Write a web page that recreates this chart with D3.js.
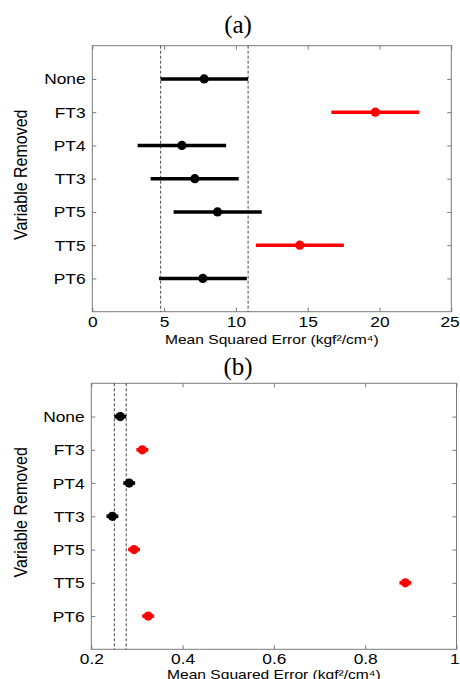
<!DOCTYPE html>
<html>
<head>
<meta charset="utf-8">
<script src="https://cdn.jsdelivr.net/npm/d3@7"></script>
<style>
  html, body { margin: 0; padding: 0; background: #fff; }
  svg { display: block; }
  text { font-family: "Liberation Sans", Arial, Helvetica, sans-serif; fill: #000; }
  .title { font-family: "Liberation Serif", "Times New Roman", serif; }
</style>
</head>
<body>
<svg id="fig" width="460" height="679"></svg>
<script>
// Variables removed from the model, top to bottom
const categories = ["None", "FT3", "PT4", "TT3", "PT5", "TT5", "PT6"];

// Panel (a): mean squared error with interval bounds
const meanA = [7.79, 19.71, 6.24, 7.14, 8.72, 14.45, 7.70];
const lowA  = [4.76, 16.65, 3.16, 4.06, 5.66, 11.39, 4.64];
const highA = [10.85, 22.77, 9.32, 10.20, 11.80, 17.52, 10.76];
const worseA = [false, true, false, false, false, true, false];
const ticksA = [0, 5, 10, 15, 20, 25];

// Panel (b): mean squared error with interval bounds
const meanB = [0.2635, 0.3118, 0.2830, 0.2462, 0.2937, 0.8880, 0.3246];
const lowB  = [0.2505, 0.2988, 0.2700, 0.2332, 0.2807, 0.8750, 0.3116];
const highB = [0.2765, 0.3248, 0.2960, 0.2592, 0.3067, 0.9010, 0.3376];
const worseB = [false, true, false, false, true, true, true];
const ticksB = [0.2, 0.4, 0.6, 0.8, 1];

const xLabel = "Mean Squared Error (kgf\u00b2/cm\u2074)";
const yLabel = "Variable Removed";

const svg = d3.select("#fig");
const STRETCH = 1.12;   // horizontal widening of the sans-serif glyphs
const AXIS_COLOR = "#7a7a7a";

function panel(cfg) {
  const { left, right, top, bottom, domain, ticks, fmt, mean, low, high, worse, title, titleY } = cfg;

  const x = d3.scaleLinear().domain(domain).range([left, right]);
  const y = d3.scalePoint().domain(categories).range([top, bottom]).padding(1);
  const g = svg.append("g");

  // title
  g.append("text").attr("class", "title")
    .attr("x", 238).attr("y", titleY)
    .attr("text-anchor", "middle")
    .style("font-size", "25px")
    .text(title);

  // box frame
  g.append("rect")
    .attr("x", left).attr("y", top)
    .attr("width", right - left).attr("height", bottom - top)
    .attr("fill", "none").attr("stroke", AXIS_COLOR).attr("stroke-width", 1);

  const styleAxis = sel => {
    sel.select(".domain").remove();
    sel.selectAll(".tick line").attr("stroke", AXIS_COLOR);
  };

  // bottom axis with labels
  const gxb = g.append("g").attr("transform", `translate(0,${bottom})`)
    .call(d3.axisBottom(x).tickValues(ticks).tickFormat(fmt).tickSizeInner(-4).tickSizeOuter(0).tickPadding(4));
  styleAxis(gxb);
  gxb.selectAll(".tick text")
    .attr("fill", "#000")
    .style("font-size", "15.5px")
    .attr("transform", `scale(${STRETCH},1)`);
  // keep the last label inside the figure edge
  gxb.selectAll(".tick:last-of-type text").attr("dx", cfg.lastDx);

  // top axis: ticks only
  const gxt = g.append("g").attr("transform", `translate(0,${top})`)
    .call(d3.axisTop(x).tickValues(ticks).tickSizeInner(-4).tickSizeOuter(0).tickFormat(""));
  styleAxis(gxt);

  // left axis with category labels
  const gyl = g.append("g").attr("transform", `translate(${left},0)`)
    .call(d3.axisLeft(y).tickSizeInner(-4).tickSizeOuter(0).tickPadding(6));
  styleAxis(gyl);
  gyl.selectAll(".tick text")
    .attr("fill", "#000")
    .style("font-size", "15.5px")
    .attr("transform", `scale(${STRETCH},1)`);

  // right axis: ticks only
  const gyr = g.append("g").attr("transform", `translate(${right},0)`)
    .call(d3.axisRight(y).tickSizeInner(-4).tickSizeOuter(0).tickFormat(""));
  styleAxis(gyr);

  // reference interval of the full model (dashed)
  const ref = [low[0], high[0]];
  g.selectAll(".ref").data(ref).join("line")
    .attr("x1", d => x(d)).attr("x2", d => x(d))
    .attr("y1", top).attr("y2", bottom)
    .attr("stroke", "#333").attr("stroke-width", 0.9)
    .attr("stroke-dasharray", "3,2");

  const rows = categories.map((c, i) => ({ c, m: mean[i], lo: low[i], hi: high[i], bad: worse[i] }));
  const color = d => d.bad ? "#ff0000" : "#000000";

  // interval bars
  g.selectAll(".bar").data(rows).join("line")
    .attr("x1", d => x(d.lo)).attr("x2", d => x(d.hi))
    .attr("y1", d => y(d.c)).attr("y2", d => y(d.c))
    .attr("stroke", color).attr("stroke-width", 3.6);

  // means
  g.selectAll(".dot").data(rows).join("circle")
    .attr("cx", d => x(d.m)).attr("cy", d => y(d.c))
    .attr("r", 4.6).attr("fill", color);

  // x axis title
  g.append("text")
    .attr("transform", `translate(${(left + right) / 2},${cfg.xLabelY}) scale(1.2,1)`)
    .attr("text-anchor", "middle")
    .style("font-size", "13px")
    .text(xLabel);

  // y axis title
  g.append("text")
    .attr("transform", `translate(27,${(top + bottom) / 2 - 4}) scale(1.15,1) rotate(-90)`)
    .attr("text-anchor", "middle")
    .style("font-size", "16px")
    .text(yLabel);
}

panel({
  left: 92.3, right: 451.3, top: 45.7, bottom: 311.7,
  domain: [0, 25], ticks: ticksA, fmt: d3.format("d"),
  mean: meanA, low: lowA, high: highA, worse: worseA,
  title: "(a)", titleY: 32.5, xLabelY: 344, lastDx: -1.5
});

panel({
  left: 91.3, right: 456.5, top: 383.3, bottom: 649.3,
  domain: [0.2, 1], ticks: ticksB, fmt: d => d3.format("~g")(d),
  mean: meanB, low: lowB, high: highB, worse: worseB,
  title: "(b)", titleY: 375, xLabelY: 678.5, lastDx: -2
});
</script>
</body>
</html>
